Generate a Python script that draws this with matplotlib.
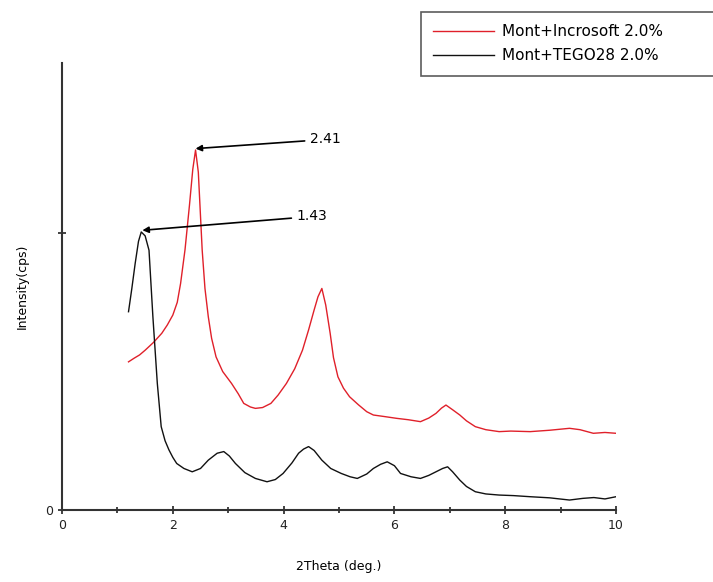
import numpy as np
import matplotlib
matplotlib.use('Agg')
from matplotlib import pyplot as plt

# Mont+Incrosoft 2.0% (red)
red_x = [1.20, 1.30, 1.40, 1.50, 1.65, 1.80, 1.90, 2.00, 2.08, 2.14, 2.22, 2.30, 2.36, 2.41,
         2.46, 2.53, 2.58, 2.64, 2.70, 2.78, 2.90, 3.06, 3.18, 3.28, 3.40, 3.49, 3.62, 3.77,
         3.90, 4.05, 4.20, 4.34, 4.45, 4.55, 4.62, 4.69, 4.76, 4.84, 4.90, 4.98, 5.08, 5.19,
         5.35, 5.50, 5.62, 5.80, 6.04, 6.25, 6.47, 6.62, 6.75, 6.85, 6.93, 7.05, 7.18, 7.30,
         7.46, 7.65, 7.89, 8.10, 8.45, 8.80, 9.16, 9.35, 9.59, 9.80, 10.0]
red_y = [535, 548, 560, 577, 605, 638, 668, 704, 750, 818, 940, 1100, 1230, 1300,
         1220, 938, 800, 698, 620, 553, 500, 457, 420, 385, 372, 367, 370, 385,
         415, 457, 510, 577, 650, 722, 770, 800, 740, 638, 550, 481, 440, 409,
         380, 355, 343, 338, 331, 326, 319, 332, 349, 368, 379, 362, 343, 322,
         301, 290, 283, 285, 283, 288, 295, 290, 277, 280, 277]

# Mont+TEGO28 2.0% (black)
blk_x = [1.20, 1.26, 1.32, 1.38, 1.43, 1.50, 1.57, 1.64, 1.72, 1.79, 1.86, 1.93, 2.00, 2.07,
         2.20, 2.35, 2.50, 2.64, 2.80, 2.92, 3.02, 3.13, 3.30, 3.49, 3.70, 3.85, 3.99, 4.15,
         4.27, 4.36, 4.45, 4.55, 4.69, 4.85, 5.04, 5.20, 5.33, 5.50, 5.62, 5.75, 5.87, 6.00,
         6.11, 6.30, 6.47, 6.62, 6.75, 6.87, 6.96, 7.05, 7.18, 7.30, 7.46, 7.65, 7.89, 8.15,
         8.45, 8.80, 9.16, 9.40, 9.60, 9.80, 10.0]
blk_y = [716, 800, 890, 970, 1004, 990, 938, 698, 457, 301, 250, 217, 190, 168,
         150, 138, 150, 180, 205, 211, 195, 168, 135, 114, 102, 110, 132, 170,
         205, 220, 229, 215, 180, 150, 132, 120, 114, 130, 150, 165, 174, 160,
         132, 120, 114, 125, 138, 150, 156, 138, 108, 85, 66, 58, 54, 52,
         48, 44, 36, 42, 45, 40, 48]

labels = ['Mont+Incrosoft 2.0%', 'Mont+TEGO28 2.0%']
peaks = [(2.41, 1305, '2.41'), (1.45, 1010, '1.43')]
peak_text_pos = [(4.48, 1338), (4.24, 1060)]

fig = plt.figure(figsize=(7.13, 5.82), dpi=100)
ax = fig.add_axes([0.087, 0.1237, 0.777, 0.768])

ax.plot(red_x, red_y, color='#e0202a', lw=1.0, label=labels[0])
ax.plot(blk_x, blk_y, color='#111111', lw=1.0, label=labels[1])

for (px, py, txt), (tx, ty) in zip(peaks, peak_text_pos):
    ax.annotate(txt, xy=(px, py), xytext=(tx, ty), fontsize=10, va='center', ha='left',
                arrowprops=dict(arrowstyle='-|>', color='black', lw=1.2,
                                mutation_scale=9, shrinkA=2, shrinkB=0))

ax.set_xlim(0, 10)
ax.set_ylim(0, 1614)
ax.set_xticks([0, 2, 4, 6, 8, 10])
ax.set_xticks([1, 3, 5, 7, 9], minor=True)
ax.set_yticks([0, 1000])
ax.set_yticklabels(['0', ''])
ax.tick_params(axis='both', which='both', direction='inout', length=6, width=1.2,
               labelsize=9, colors='#222222')
ax.tick_params(axis='x', which='minor', length=5)
for s in ['top', 'right']:
    ax.spines[s].set_visible(False)
for s in ['left', 'bottom']:
    ax.spines[s].set_linewidth(1.5)
    ax.spines[s].set_color('#333333')

ax.set_xlabel('2Theta (deg.)', fontsize=9, labelpad=20)
ax.set_ylabel('Intensity(cps)', fontsize=9, labelpad=12)

leg = fig.legend(loc='upper left', bbox_to_anchor=(421 / 713, 1 - 12 / 582, 300 / 713, 0.0),
                 mode='expand', fontsize=11, frameon=True, fancybox=False, handlelength=4.0,
                 borderpad=0.8, labelspacing=0.6, handletextpad=0.5, borderaxespad=0)
leg.get_frame().set_edgecolor('#333333')
leg.get_frame().set_linewidth(1.2)

fig.savefig('out.png', dpi=100)
